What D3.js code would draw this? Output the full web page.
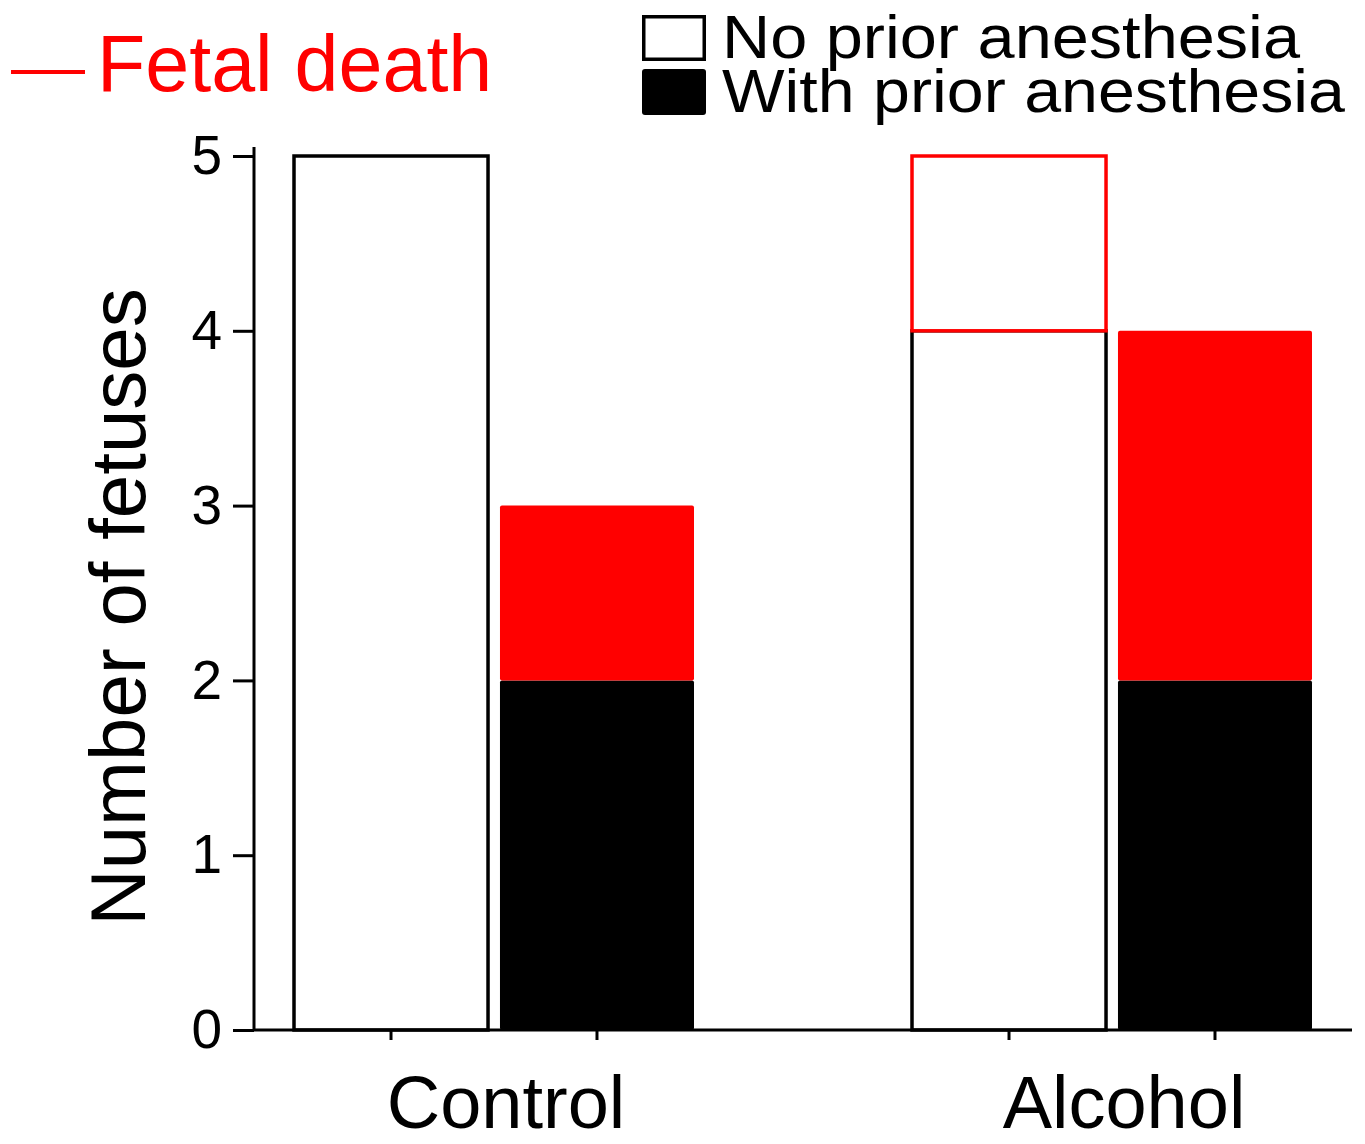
<!DOCTYPE html>
<html>
<head>
<meta charset="utf-8">
<script src="https://cdn.jsdelivr.net/npm/d3@7"></script>
<style>
  body { margin: 0; background: #fff; }
  svg { display: block; font-family: "Liberation Sans", Arial, sans-serif; }
</style>
</head>
<body>
<div id="chart"></div>
<script>
// data
var categories = ["Control", "Alcohol"];
var groups = ["No prior anesthesia", "With prior anesthesia"];
// surviving fetuses and fetal deaths, per category, for each group
var noPriorAlive = [5, 4];
var noPriorDead = [0, 1];
var withPriorAlive = [2, 2];
var withPriorDead = [1, 2];
var yTicks = [0, 1, 2, 3, 4, 5];

var width = 1365, height = 1144;

var svg = d3.select("#chart").append("svg")
    .attr("width", width)
    .attr("height", height);

var y = d3.scaleLinear().domain([0, 5]).range([1030, 156]);
var x = d3.scalePoint().domain(categories).range([494, 1112]);
var xInner = d3.scaleBand().domain(groups).range([-200, 200]).paddingInner(0.058);

// build bar segments
var bars = [];
categories.forEach(function(c, i) {
  bars.push({cat: c, grp: groups[0], alive: noPriorAlive[i], dead: noPriorDead[i]});
  bars.push({cat: c, grp: groups[1], alive: withPriorAlive[i], dead: withPriorDead[i]});
});
function bx(d) { return x(d.cat) + xInner(d.grp); }
var bw = xInner.bandwidth();

var g = svg.append("g");

// no prior: white bars with black outline, deaths outlined in red
var open = bars.filter(function(d) { return d.grp == groups[0]; });
g.selectAll("rect.open").data(open).enter().append("rect")
    .attr("class", "open")
    .attr("x", bx)
    .attr("y", function(d) { return y(d.alive); })
    .attr("width", bw)
    .attr("height", function(d) { return y(0) - y(d.alive); })
    .attr("fill", "#fff")
    .attr("stroke", "#000")
    .attr("stroke-width", 3.5);
g.selectAll("rect.openDead").data(open.filter(function(d) { return d.dead > 0; })).enter().append("rect")
    .attr("class", "openDead")
    .attr("x", bx)
    .attr("y", function(d) { return y(d.alive + d.dead); })
    .attr("width", bw)
    .attr("height", function(d) { return y(d.alive) - y(d.alive + d.dead); })
    .attr("fill", "#fff")
    .attr("stroke", "#ff0000")
    .attr("stroke-width", 3.5);

// with prior: black filled bars, deaths in red
var filled = bars.filter(function(d) { return d.grp == groups[1]; });
g.selectAll("rect.filled").data(filled).enter().append("rect")
    .attr("x", bx)
    .attr("y", function(d) { return y(d.alive); })
    .attr("width", bw)
    .attr("height", function(d) { return y(0) - y(d.alive); })
    .attr("rx", 2)
    .attr("fill", "#000");
g.selectAll("rect.filledDead").data(filled).enter().append("rect")
    .attr("x", bx)
    .attr("y", function(d) { return y(d.alive + d.dead); })
    .attr("width", bw)
    .attr("height", function(d) { return y(d.alive) - y(d.alive + d.dead); })
    .attr("rx", 2)
    .attr("fill", "#ff0000");

// y axis
var axisX = 254;
var yAxis = svg.append("g")
    .attr("transform", "translate(" + axisX + ",0)")
    .call(d3.axisLeft(y).tickValues(yTicks).tickSize(21).tickPadding(11).tickFormat(d3.format("d")));
yAxis.select(".domain").remove();
yAxis.selectAll(".tick line").attr("stroke", "#000").attr("stroke-width", 3);
yAxis.selectAll(".tick text")
    .attr("font-size", 55)
    .attr("font-family", "'Liberation Sans', Arial, sans-serif")
    .attr("fill", "#000");
svg.append("line")
    .attr("x1", axisX).attr("x2", axisX)
    .attr("y1", 147).attr("y2", y(0))
    .attr("stroke", "#000").attr("stroke-width", 3);

// x axis
svg.append("line")
    .attr("x1", axisX).attr("x2", 1352)
    .attr("y1", y(0)).attr("y2", y(0))
    .attr("stroke", "#000").attr("stroke-width", 3);
svg.selectAll("line.xtick").data(bars).enter().append("line")
    .attr("x1", function(d) { return bx(d) + bw / 2; })
    .attr("x2", function(d) { return bx(d) + bw / 2; })
    .attr("y1", y(0)).attr("y2", y(0) + 10)
    .attr("stroke", "#000").attr("stroke-width", 3);
svg.selectAll("text.cat").data(categories).enter().append("text")
    .attr("x", function(d) { return x(d) + 12; })
    .attr("y", 1128)
    .attr("text-anchor", "middle")
    .attr("font-size", 74)
    .text(function(d) { return d; });

// y title
svg.append("text")
    .attr("transform", "translate(145,607) rotate(-90)")
    .attr("text-anchor", "middle")
    .attr("font-size", 78)
    .text("Number of fetuses");

// legend: fetal death
svg.append("line")
    .attr("x1", 11).attr("x2", 85)
    .attr("y1", 72).attr("y2", 72)
    .attr("stroke", "#ff0000").attr("stroke-width", 4);
svg.append("text")
    .attr("x", 97).attr("y", 91)
    .attr("font-size", 79)
    .attr("fill", "#ff0000")
    .text("Fetal death");

// legend: groups
var legendWidths = [578, 623];
var legend = svg.selectAll("g.leg").data(groups).enter().append("g")
    .attr("transform", function(d, i) { return "translate(642," + (15 + i * 54) + ")"; });
legend.append("rect")
    .attr("x", function(d, i) { return i == 0 ? 1.75 : 0; })
    .attr("y", function(d, i) { return i == 0 ? 1.75 : 0; })
    .attr("width", function(d, i) { return i == 0 ? 60.5 : 64; })
    .attr("height", function(d, i) { return i == 0 ? 42.5 : 46; })
    .attr("rx", function(d, i) { return i == 0 ? 0 : 3; })
    .attr("fill", function(d, i) { return i == 0 ? "#fff" : "#000"; })
    .attr("stroke", function(d, i) { return i == 0 ? "#000" : "none"; })
    .attr("stroke-width", 3.5);
legend.append("text")
    .attr("x", 80)
    .attr("y", 43)
    .attr("font-size", 61)
    .attr("textLength", function(d, i) { return legendWidths[i]; })
    .attr("lengthAdjust", "spacingAndGlyphs")
    .text(function(d) { return d; });
</script>
</body>
</html>
